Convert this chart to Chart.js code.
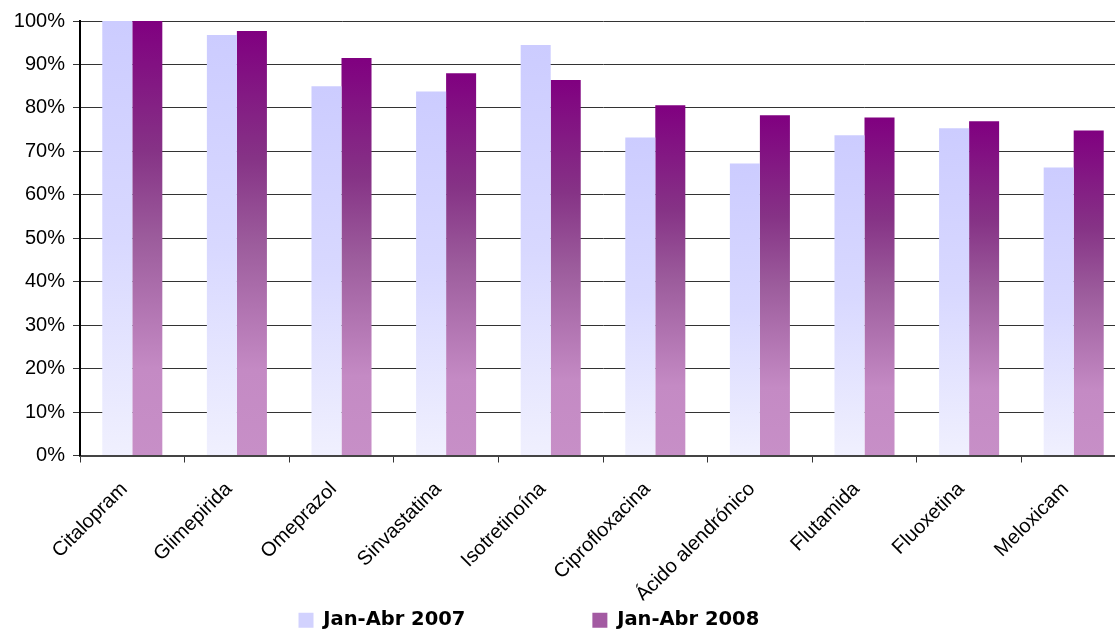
<!DOCTYPE html>
<html>
<head>
<meta charset="utf-8">
<script src="https://cdn.jsdelivr.net/npm/chart.js@4.4.0/dist/chart.umd.min.js"></script>
<style>
  html, body { margin: 0; padding: 0; background: #fff; overflow: hidden; }
  #wrap { width: 1126px; height: 640px; position: relative; }
</style>
</head>
<body>
<div id="wrap"><canvas id="chart"></canvas></div>
<script>
const categories = ['Citalopram', 'Glimepirida', 'Omeprazol', 'Sinvastatina', 'Isotretinoína',
  'Ciprofloxacina', 'Ácido alendrónico', 'Flutamida', 'Fluoxetina', 'Meloxicam'];
const series2007 = [100, 96.8, 85.0, 83.8, 94.5, 73.2, 67.2, 73.7, 75.3, 66.3];
const series2008 = [100, 97.7, 91.5, 88.0, 86.4, 80.6, 78.3, 77.8, 76.9, 74.8];
const seriesNames = ['Jan-Abr 2007', 'Jan-Abr 2008'];

const lightStops = [[0, '#ccccff'], [0.5, '#d8d8ff'], [1, '#f0f0fe']];
const darkStops = [[0, '#800080'], [0.3, '#863386'], [0.5, '#9c5c9c'], [0.8, '#c48ac4'], [1, '#c78fc7']];

// gradient per bar, from the bar top down to 0%
function barGradient(stops, flat){
  return (c) => {
    if (c.type !== 'data' || !c.chart.chartArea) return flat;
    const y = c.chart.scales.y;
    const y0 = y.getPixelForValue(c.raw);
    const y1 = y.getPixelForValue(0);
    if (!isFinite(y0) || !isFinite(y1) || y0 === y1) return flat;
    const g = c.chart.ctx.createLinearGradient(0, y0, 0, y1);
    stops.forEach(s => g.addColorStop(s[0], s[1]));
    return g;
  };
}

const legendFlat = ['#d2d2fe', '#a35aa2'];
const legendPad = ['\u2003\u2003\u2003\u2003\u2003\u2003', '\u2003\u2003\u2003\u2002'];

let chart;
function createChart(){
  const ctx = document.getElementById('chart').getContext('2d');
  chart = new Chart(ctx, {
    type: 'bar',
    data: {
      labels: categories,
      datasets: [{
        label: seriesNames[0],
        data: series2007,
        backgroundColor: barGradient(lightStops, '#d4d4fd'),
        borderWidth: 0
      }, {
        label: seriesNames[1],
        data: series2008,
        backgroundColor: barGradient(darkStops, '#9c4c9b'),
        borderWidth: 0
      }]
    },
    options: {
      animation: false,
      responsive: true,
      maintainAspectRatio: false,
      datasets: { bar: { categoryPercentage: 0.574, barPercentage: 1 } },
      layout: { padding: { top: 21, right: 0, left: 0, bottom: 0 } },
      plugins: {
        tooltip: { enabled: false },
        legend: {
          position: 'bottom',
          labels: {
            boxWidth: 15, boxHeight: 15, padding: 10,
            color: '#000',
            font: { family: 'DejaVu Sans', size: 19.5, weight: 'bold' },
            generateLabels: (ch) => ch.data.datasets.map((ds, i) => ({
              text: ds.label + legendPad[i],
              fillStyle: legendFlat[i],
              strokeStyle: legendFlat[i],
              lineWidth: 0,
              hidden: false,
              datasetIndex: i
            }))
          }
        }
      },
      scales: {
        x: {
          grid: { display: true, drawOnChartArea: false, drawTicks: true, tickLength: 7, color: '#333', offset: true },
          border: { color: '#444', width: 2 },
          ticks: {
            minRotation: 45, maxRotation: 45, padding: 15, labelOffset: -8, color: '#000',
            font: { family: 'Liberation Sans', size: 20 }
          },
          afterFit: (s) => { s.height = 145; }
        },
        y: {
          min: 0, max: 100,
          grid: { color: '#333', lineWidth: 1, tickLength: 7 },
          border: { color: '#000', width: 2 },
          ticks: {
            stepSize: 10, padding: 8, color: '#000',
            font: { family: 'Liberation Sans', size: 20 },
            callback: (v) => v + '%'
          },
          afterFit: (s) => { s.width = 80; }
        }
      }
    }
  });
}

createChart();
</script>
</body>
</html>
